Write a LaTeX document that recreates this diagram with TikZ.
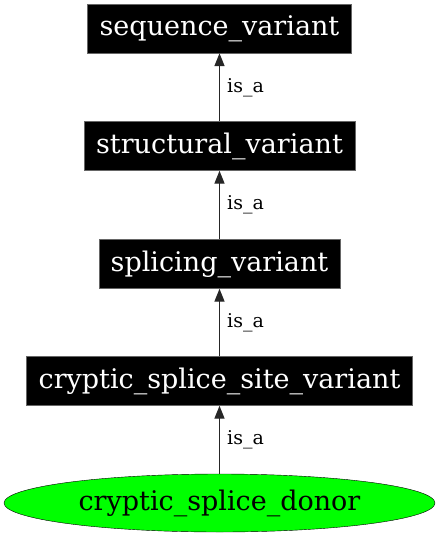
\documentclass[tikz,border=0pt]{standalone}
\usepackage{fontspec}
\setmainfont{DejaVu Serif}
\usetikzlibrary{arrows.meta,shapes.geometric}

\begin{document}
\begin{tikzpicture}[x=1pt,y=1pt,yscale=-1,xscale=1,
termbox/.style={fill=black,draw=black!60,text=white,inner xsep=12pt,inner ysep=0pt,minimum height=49pt,font=\fontsize{27}{32}\selectfont},
termleaf/.style={ellipse,fill={rgb,255:red,0;green,255;blue,0},draw=black,minimum width=431pt,minimum height=58pt,inner sep=0pt,font=\fontsize{27}{32}\selectfont},
isa/.style={-{Triangle[length=13pt,width=10pt]},line width=1.4pt,draw=black!85},
isalabel/.style={anchor=west,inner sep=0pt,xshift=7pt,font=\fontsize{19}{22}\selectfont}]
\useasboundingbox (0,0) rectangle (440,536);
\node (seqvar) [termbox] at (219.5,28.5) {sequence\_variant};
\node (strvar) [termbox] at (219.5,146) {structural\_variant};
\node (splvar) [termbox] at (219.5,264) {splicing\_variant};
\node (cssvar) [termbox] at (219.5,381) {cryptic\_splice\_site\_variant};
\node (csdonor) [termleaf] at (219.5,503) {cryptic\_splice\_donor};
\draw [isa] (strvar) -- node [isalabel] {is\_a} (seqvar);
\draw [isa] (splvar) -- node [isalabel] {is\_a} (strvar);
\draw [isa] (cssvar) -- node [isalabel] {is\_a} (splvar);
\draw [isa] (csdonor) -- node [isalabel] {is\_a} (cssvar);
\end{tikzpicture}
\end{document}
